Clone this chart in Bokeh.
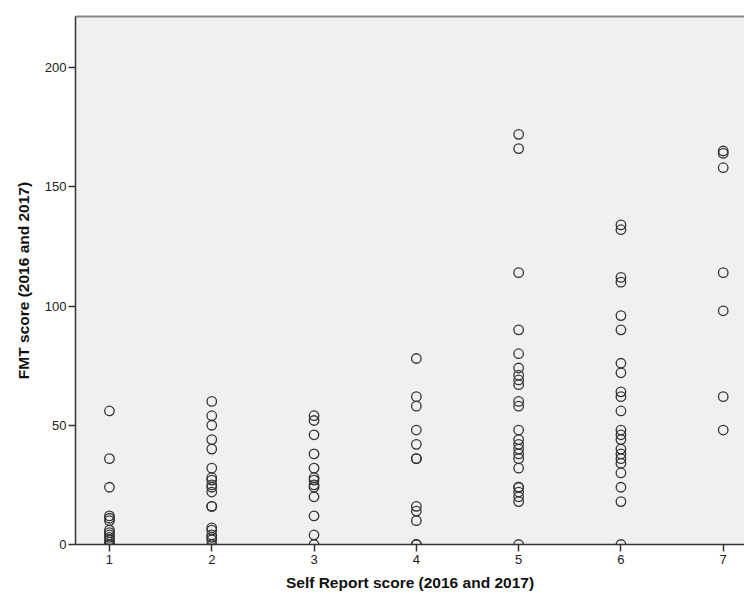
from bokeh.plotting import figure
from bokeh.models import LinearAxis, FixedTicker, Range1d, ColumnDataSource
from bokeh.embed import file_html
from bokeh.resources import INLINE

# Self report categories and FMT scores
self_report = [1, 2, 3, 4, 5, 6, 7]
fmt_sr1 = [56, 36, 24, 12, 11, 10, 6, 5, 4, 3, 2, 1, 0, 0]
fmt_sr2 = [60, 54, 50, 44, 40, 32, 28, 27, 25, 24, 22, 16, 16, 7, 6, 4, 3, 2, 0]
fmt_sr3 = [54, 52, 46, 38, 32, 28, 27, 25, 24, 20, 12, 4, 0]
fmt_sr4 = [78, 62, 58, 48, 42, 36, 36, 16, 14, 10, 0, 0]
fmt_sr5 = [172, 166, 114, 90, 80, 74, 71, 69, 67, 60, 58, 48, 44, 42, 40, 38, 36,
           32, 24, 24, 22, 20, 18, 0]
fmt_sr6 = [134, 132, 112, 110, 96, 90, 76, 72, 64, 62, 56, 48, 46, 44, 40, 38, 36,
           34, 30, 24, 18, 0]
fmt_sr7 = [165, 164, 158, 114, 98, 62, 48]
y_ticks = [0, 50, 100, 150, 200]

groups = [fmt_sr1, fmt_sr2, fmt_sr3, fmt_sr4, fmt_sr5, fmt_sr6, fmt_sr7]
xs, ys = [], []
for sr, vals in zip(self_report, groups):
    xs += [sr] * len(vals)
    ys += vals
src = ColumnDataSource(dict(x=xs, y=ys))

p = figure(width=744, height=597, output_backend="svg", toolbar_location=None,
           x_range=Range1d(0.668, 7.208), y_range=Range1d(0, 221.4),
           min_border_left=75, min_border_right=0, min_border_top=16,
           min_border_bottom=53)
p.background_fill_color = "#f0f0f0"
p.border_fill_color = "white"
p.outline_line_color = None
p.xgrid.visible = False
p.ygrid.visible = False

FONT = "Liberation Sans"
for ax in (p.xaxis[0], p.yaxis[0]):
    ax.axis_line_color = "#333333"
    ax.axis_line_width = 1.5
    ax.major_tick_line_color = "#333333"
    ax.major_tick_line_width = 1.5
    ax.major_tick_in = 0
    ax.major_tick_out = 7
    ax.minor_tick_line_color = None
    ax.major_label_text_font = FONT
    ax.major_label_text_font_size = "13px"
    ax.major_label_text_color = "#222222"
    ax.axis_label_text_font = FONT
    ax.axis_label_text_font_size = "15.5px"
    ax.axis_label_text_font_style = "bold"
    ax.axis_label_text_color = "#111111"

p.xaxis.ticker = FixedTicker(ticks=self_report)
p.yaxis.ticker = FixedTicker(ticks=y_ticks)
p.xaxis.axis_label = "Self Report score (2016 and 2017)"
p.yaxis.axis_label = "FMT score (2016 and 2017)"
p.xaxis.major_label_standoff = 3
p.xaxis.axis_label_standoff = 7
p.yaxis.major_label_standoff = 2
p.yaxis.axis_label_standoff = 10

top = LinearAxis(ticker=FixedTicker(ticks=[]), axis_line_color="#888888",
                 axis_line_width=2, major_tick_line_color=None,
                 minor_tick_line_color=None, major_label_text_font_size="0px",
                 major_label_standoff=0)
p.add_layout(top, "above")

p.scatter("x", "y", source=src, marker="circle", size=9.5, fill_color=None,
          line_color="#333333", line_width=1.3)

open("out.html", "w").write(file_html(p, INLINE))
